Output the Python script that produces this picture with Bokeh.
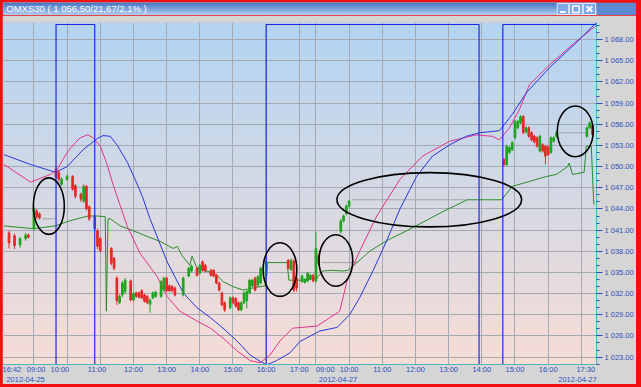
import numpy as np
from bokeh.plotting import figure
from bokeh.layouts import column
from bokeh.models import ColumnDataSource, FixedTicker, LinearAxis, Range1d
from bokeh.core.properties import value
from bokeh.embed import file_html
from bokeh.resources import INLINE

TITLE = "OMXS30 ( 1 056,50/21,67/2,1% )"

# x = trading minutes counted from 2012-04-26 09:00 (sessions 09:00-17:30 joined)
c_time = [-45, -35, -25, -15, -10,
          0, 5, 10, 40, 45, 50, 60, 70, 75, 85, 90, 95, 100, 110, 115, 120,
          140, 145, 150, 155, 160, 165, 175, 180, 185, 190, 195, 200, 205, 210, 215, 220,
          230, 235, 240, 245, 250, 255, 270, 280, 285, 295, 300, 305, 310, 320, 325, 330, 335, 340, 345,
          355, 360, 365, 370, 375, 380, 385, 390, 395, 400, 405, 410, 420,
          460, 465, 470, 475, 485, 490, 495, 500, 505,
          510, 515, 555, 560, 565, 570,
          850, 855, 860, 865, 870, 875, 880, 885, 890, 895, 900, 905, 910, 915, 920, 925, 930, 935, 940, 945,
          1000, 1005, 1010]
c_open = [1040.6, 1040.2, 1038.9, 1039.8, 1040.3,
          1041.2, 1043.7, 1043.3, 1049.6, 1049.2, 1047.5, 1048.2, 1048.6, 1047.3, 1046.1, 1045.1, 1047.2, 1044.3, 1043.0, 1040.9, 1039.8,
          1038.4, 1037.0, 1034.2, 1030.7, 1031.8, 1032.3, 1033.8, 1031.1, 1032.1, 1032.1, 1032.4, 1031.8, 1031.6, 1030.5, 1031.4, 1031.6,
          1031.6, 1032.5, 1034.2, 1033.1, 1033.0, 1032.8, 1031.8, 1034.5, 1035.2, 1035.6, 1034.9, 1036.5, 1036.0, 1035.3, 1035.3, 1034.6, 1033.5, 1032.1, 1030.7,
          1030.0, 1031.4, 1031.3, 1030.7, 1029.7, 1030.7, 1031.0, 1032.1, 1033.1, 1034.2, 1033.2, 1033.5, 1034.6,
          1036.7, 1035.4, 1036.6, 1034.2, 1033.7, 1033.6, 1033.8, 1034.1, 1034.6,
          1033.8, 1037.4, 1040.8, 1042.3, 1043.3, 1044.4,
          1051.0, 1050.3, 1052.0, 1052.4, 1054.1, 1055.5, 1056.2, 1057.1, 1054.9, 1055.5, 1054.8, 1054.3, 1054.1, 1052.2, 1053.1, 1052.9, 1052.8, 1052.0, 1053.6, 1054.3,
          1054.3, 1055.5, 1055.9]
c_high = [1040.9, 1040.5, 1040.0, 1040.6, 1040.5,
          1044.3, 1044.0, 1043.5, 1050.0, 1049.5, 1048.5, 1048.9, 1048.8, 1047.5, 1046.3, 1047.5, 1047.4, 1044.5, 1043.2, 1041.2, 1040.0,
          1038.6, 1037.2, 1034.5, 1031.9, 1033.8, 1034.2, 1034.0, 1032.2, 1032.3, 1032.3, 1032.6, 1032.0, 1031.8, 1031.3, 1032.3, 1032.4,
          1033.9, 1034.4, 1034.4, 1033.3, 1033.2, 1033.0, 1034.4, 1035.8, 1036.1, 1035.8, 1036.2, 1036.7, 1036.2, 1035.5, 1035.5, 1034.8, 1033.7, 1032.3, 1030.9,
          1031.6, 1031.6, 1031.5, 1030.9, 1030.9, 1032.3, 1032.5, 1034.1, 1034.1, 1034.4, 1034.6, 1035.8, 1037.0,
          1036.9, 1037.0, 1036.9, 1034.4, 1034.7, 1034.2, 1035.1, 1034.8, 1034.8,
          1040.8, 1037.7, 1042.6, 1043.2, 1044.6, 1045.3,
          1051.2, 1053.1, 1052.9, 1053.6, 1056.6, 1056.6, 1057.3, 1057.3, 1055.7, 1055.7, 1055.0, 1054.5, 1054.3, 1054.5, 1053.3, 1053.1, 1053.0, 1054.3, 1054.3, 1055.0,
          1055.7, 1056.4, 1056.3]
c_low = [1038.4, 1038.3, 1038.5, 1039.5, 1039.8,
         1040.9, 1042.6, 1042.5, 1048.2, 1047.9, 1047.3, 1048.0, 1046.6, 1045.5, 1045.0, 1044.9, 1043.8, 1042.3, 1040.8, 1038.3, 1037.8,
         1036.0, 1035.3, 1030.4, 1030.5, 1031.5, 1032.0, 1030.9, 1030.9, 1031.4, 1031.3, 1031.2, 1030.7, 1030.5, 1029.3, 1031.2, 1031.4,
         1031.4, 1032.3, 1032.2, 1032.2, 1032.2, 1031.6, 1031.6, 1034.3, 1035.0, 1034.4, 1034.7, 1035.1, 1035.0, 1034.4, 1034.3, 1033.3, 1032.3, 1030.2, 1029.4,
         1029.8, 1030.5, 1030.0, 1029.5, 1029.5, 1030.5, 1029.9, 1031.9, 1032.9, 1032.3, 1033.0, 1033.3, 1034.3,
         1035.4, 1035.2, 1032.2, 1032.3, 1033.5, 1033.4, 1033.6, 1033.9, 1033.6,
         1033.5, 1036.0, 1040.5, 1042.1, 1043.1, 1044.2,
         1050.0, 1050.1, 1051.8, 1052.2, 1053.9, 1055.3, 1056.0, 1054.6, 1054.7, 1054.1, 1053.6, 1053.3, 1052.7, 1052.0, 1052.0, 1050.3, 1051.5, 1051.8, 1053.4, 1054.1,
         1054.1, 1055.3, 1054.3]
c_close = [1039.2, 1038.8, 1039.8, 1040.3, 1040.0,
           1044.0, 1042.9, 1042.7, 1048.5, 1048.2, 1048.2, 1048.6, 1046.8, 1045.8, 1045.4, 1047.2, 1044.0, 1042.6, 1041.2, 1038.7, 1038.1,
           1036.3, 1035.6, 1031.0, 1031.6, 1033.5, 1033.9, 1031.1, 1032.0, 1031.6, 1031.5, 1031.4, 1030.9, 1030.7, 1031.1, 1032.1, 1032.2,
           1033.7, 1034.2, 1032.4, 1032.4, 1032.4, 1031.8, 1034.2, 1035.6, 1035.9, 1034.6, 1036.0, 1035.3, 1035.2, 1034.6, 1034.5, 1033.5, 1032.5, 1030.4, 1029.7,
           1031.4, 1030.7, 1030.2, 1029.7, 1030.7, 1032.1, 1032.3, 1033.9, 1033.9, 1032.5, 1034.4, 1035.6, 1036.6,
           1035.6, 1036.7, 1032.5, 1032.8, 1034.5, 1034.0, 1034.9, 1034.6, 1033.8,
           1038.4, 1036.3, 1042.3, 1043.0, 1044.4, 1045.1,
           1050.3, 1052.9, 1052.7, 1053.4, 1056.4, 1056.4, 1057.1, 1054.8, 1055.5, 1054.3, 1053.8, 1053.5, 1052.9, 1054.3, 1052.2, 1051.5, 1051.7, 1054.1, 1054.1, 1054.8,
           1055.5, 1056.2, 1054.6]

# flat price lines where no trades were printed
gap_start = [15, 520, 575, 950]
gap_end = [38, 585, 784, 999]
gap_price = [1042.6, 1036.4, 1045.3, 1054.8]

# green average
ma_time = [-54, -1, 39, 60, 78, 98, 115, 129, 131, 134, 138, 156, 180, 205, 228, 252, 259, 268, 282, 286,
           295, 313, 331, 342, 360, 378, 396, 418, 423, 458, 461, 486, 512, 522, 540, 559, 568, 577, 607, 638,
           674, 698, 739, 784, 846, 865, 896, 927, 945, 965, 968, 974, 995, 999, 1008, 1012, 1013]
ma_price = [1041.6, 1041.2, 1041.6, 1042.2, 1042.6, 1043.0, 1043.0, 1042.9, 1029.5, 1042.6, 1042.6, 1041.6, 1040.9, 1040.1, 1039.4, 1038.4, 1038.7, 1037.4, 1036.0, 1037.3,
            1035.6, 1035.2, 1034.6, 1033.7, 1033.0, 1032.5, 1032.8, 1033.1, 1036.4, 1036.4, 1033.9, 1033.9, 1034.2, 1035.2, 1035.3, 1035.2, 1035.3, 1035.9, 1038.0, 1039.5,
            1040.9, 1041.9, 1043.6, 1045.3, 1045.3, 1047.2, 1047.9, 1048.6, 1048.9, 1050.0, 1050.5, 1048.9, 1049.2, 1052.9, 1052.9, 1045.4, 1044.6]

# magenta average
mag_time = [-54, -6, 30, 42, 60, 75, 84, 97, 107, 120, 131, 143, 169, 192, 223, 241, 264, 295, 319, 342,
            367, 391, 409, 427, 445, 468, 512, 553, 566, 577, 589, 620, 662, 703, 752, 800, 829, 842, 860, 878,
            896, 932, 977, 1017]
mag_price = [1050.3, 1047.8, 1048.9, 1049.6, 1052.0, 1053.4, 1054.1, 1054.5, 1054.1, 1052.9, 1050.6, 1047.5, 1041.5, 1037.7, 1034.4, 1031.6, 1029.5, 1028.1, 1027.1, 1025.7,
             1023.9, 1022.5, 1022.2, 1023.3, 1025.3, 1027.1, 1027.4, 1029.5, 1033.7, 1035.9, 1038.0, 1043.0, 1048.2, 1051.5, 1053.6, 1054.5, 1054.3, 1053.8, 1055.5, 1058.1,
             1061.6, 1064.4, 1067.5, 1070.0]

# blue average
blu_time = [-54, -6, 39, 60, 89, 102, 115, 125, 138, 151, 169, 183, 196, 210, 241, 270, 295, 319, 342, 367,
            391, 409, 421, 439, 463, 481, 517, 548, 571, 589, 613, 638, 662, 692, 721, 752, 782, 806, 842, 865,
            891, 932, 977, 1017]
blu_price = [1051.7, 1050.3, 1049.2, 1050.0, 1052.4, 1053.2, 1054.0, 1054.4, 1054.3, 1053.0, 1050.6, 1048.2, 1045.8, 1042.6, 1036.5, 1032.1, 1030.0, 1028.6, 1027.1, 1025.3,
             1023.3, 1022.4, 1021.9, 1022.5, 1023.6, 1025.2, 1026.7, 1027.2, 1029.0, 1031.4, 1035.2, 1039.5, 1044.0, 1048.6, 1051.5, 1053.1, 1054.3, 1054.8, 1055.1, 1057.4,
             1060.5, 1064.0, 1067.3, 1070.4]

# on/off signal (step)
sig_time = [-55, 40, 110, 420, 805, 848, 1017]
sig_on = [0, 1, 0, 1, 0, 1, 1]

# hand-drawn ellipses
ell_time = [27, 445, 546, 715, 979]
ell_price = [1044.4, 1035.4, 1036.7, 1045.3, 1055.0]
ell_w = [56, 61, 61, 334, 65]
ell_h = [8.0, 7.6, 7.3, 7.7, 7.2]

# axes
time_tick_pos = [-40, 4, 47, 114, 180, 240, 300, 360, 420, 480, 527, 570, 630, 690, 750, 810, 870, 930, 998]
time_tick_lab = ["16:42", "09:00", "10:00", "11:00", "12:00", "13:00", "14:00", "15:00", "16:00", "17:00",
                 "09:00", "10:00", "11:00", "12:00", "13:00", "14:00", "15:00", "16:00", "17:30"]
date_tick_pos = [-15, 550, 983]
date_tick_lab = ["2012-04-25", "2012-04-27", "2012-04-27"]
hour_grid = [0, 60, 120, 180, 240, 300, 360, 420, 480, 510, 570, 630, 690, 750, 810, 870, 930, 990]
ytick_vals = [1023, 1026, 1029, 1032, 1035, 1038, 1041, 1044, 1047, 1050, 1053, 1056, 1059, 1062, 1065, 1068]
ytick_labels = ["1 023.00", "1 026.00", "1 029.00", "1 032.00", "1 035.00", "1 038.00", "1 041.00", "1 044.00",
                "1 047.00", "1 050.00", "1 053.00", "1 056.00", "1 059.00", "1 062.00", "1 065.00", "1 068.00"]

Y0, Y1 = 1021.95, 1070.43
X0, X1 = -55, 1017.4
TEAL = "#4db6bf"
LABEL_BLUE = "#2f4fbf"
FONT = "Liberation Sans"
RED = "#f01010"


def hexcol(rgb):
    return "#%02x%02x%02x" % tuple(int(round(v)) for v in rgb)


# ---------------- window title bar ----------------
TW, TH = 634, 13
tfig = figure(width=TW, height=TH, output_backend="svg", toolbar_location=None,
              x_range=Range1d(0, TW), y_range=Range1d(0, TH),
              x_axis_type=None, y_axis_type=None, min_border=0,
              outline_line_color=None, border_fill_color="#5a8ad0")
tfig.grid.visible = False
tb_top = np.array([0x3a, 0x6c, 0xbf])
tb_bot = np.array([0xa8, 0xc6, 0xec])
t_cols = [hexcol(tb_top + (tb_bot - tb_top) * (i / (TH - 1))) for i in range(TH)]
tfig.quad(left=0, right=TW, top=[TH - i for i in range(TH)], bottom=[TH - i - 1 for i in range(TH)],
          fill_color=t_cols, line_color=t_cols, line_width=0.5)
tfig.text(x=[3], y=[TH / 2 + 0.5], text=[TITLE], text_color="white", text_font=value(FONT),
          text_font_size="9.5px", text_baseline="middle", text_align="left")
tfig.quad(left=[592, 605, 620], right=[604, 619, 633], bottom=1, top=12,
          fill_color="#7ea8e4", line_color="#dde8fb", line_width=1)
tfig.segment(x0=[595], y0=[3.5], x1=[601], y1=[3.5], line_color="white", line_width=2)
tfig.quad(left=[608.5], right=[615.5], bottom=[3], top=[9.5], fill_color=None,
          line_color="white", line_width=1.5)
tfig.scatter(x=[626.5], y=[6.5], marker="x", size=8, line_color="white", line_width=2)

# ---------------- main chart ----------------
p = figure(width=634, height=369, output_backend="svg", toolbar_location=None,
           x_range=Range1d(X0, X1), y_range=Range1d(Y0, Y1),
           y_axis_location="right",
           min_border_left=1, min_border_right=39, min_border_top=7, min_border_bottom=17,
           border_fill_color="#d5d5d5", outline_line_color=None)

# background gradient (light blue top -> pale pink bottom)
nb = 60
edges = np.linspace(Y0 - 0.5, Y1 + 0.5, nb + 1)
top_rgb = np.array([0xb2, 0xd4, 0xf3])
bot_rgb = np.array([0xf7, 0xdd, 0xd5])
cols = [hexcol(bot_rgb + (top_rgb - bot_rgb) * ((i + 0.5) / nb)) for i in range(nb)]
p.quad(left=X0 - 10, right=X1 + 10, bottom=edges[:-1], top=edges[1:],
       fill_color=cols, line_color=cols, level="image")

# grid
p.xgrid.ticker = FixedTicker(ticks=hour_grid)
p.ygrid.ticker = FixedTicker(ticks=ytick_vals)
for g in (p.xgrid, p.ygrid):
    g.grid_line_color = "#a4a9b2"
    g.grid_line_width = 1

# right axis
yax = p.yaxis[0]
yax.ticker = FixedTicker(ticks=ytick_vals, minor_ticks=list(range(1022, 1071)))
yax.major_label_overrides = dict(zip(ytick_vals, ytick_labels))
yax.major_label_text_font = FONT
yax.major_label_text_font_size = "7.5px"
yax.major_label_text_color = LABEL_BLUE
yax.axis_line_color = TEAL
yax.major_tick_line_color = LABEL_BLUE
yax.minor_tick_line_color = LABEL_BLUE
yax.major_tick_in = 0
yax.major_tick_out = 6
yax.minor_tick_in = 0
yax.minor_tick_out = 3
yax.major_label_standoff = 2

# bottom time axis
xax = p.xaxis[0]
xax.ticker = FixedTicker(ticks=time_tick_pos)
xax.major_label_overrides = dict(zip(time_tick_pos, time_tick_lab))
xax.major_label_text_font = FONT
xax.major_label_text_font_size = "7.5px"
xax.major_label_text_color = LABEL_BLUE
xax.axis_line_color = TEAL
xax.major_tick_line_color = None
xax.minor_tick_line_color = None
xax.major_tick_in = 0
xax.major_tick_out = 0
xax.minor_tick_out = 0
xax.major_label_standoff = 0

date_ax = LinearAxis(ticker=FixedTicker(ticks=date_tick_pos),
                     major_label_overrides=dict(zip(date_tick_pos, date_tick_lab)),
                     axis_line_color=None, major_tick_line_color=None, minor_tick_line_color=None,
                     major_tick_in=0, major_tick_out=0, minor_tick_out=0, major_label_standoff=0,
                     major_label_text_font=FONT, major_label_text_font_size="7.5px",
                     major_label_text_color=LABEL_BLUE)
p.add_layout(date_ax, "below")

# gap lines
p.segment(x0=gap_start, y0=gap_price, x1=gap_end, y1=gap_price, line_color="#a5a5a5", line_width=1)

# averages
p.line(ma_time, ma_price, line_color="#2b8a2b", line_width=1)
p.line(mag_time, mag_price, line_color="#e3338c", line_width=1)
p.line(blu_time, blu_price, line_color="#2a36d8", line_width=1)

# candles
colors = ["#1fa31f" if c >= o else "#e42a2a" for o, c in zip(c_open, c_close)]
src = ColumnDataSource(dict(t=c_time, o=c_open, h=c_high, l=c_low, c=c_close, col=colors,
                            top=[max(o, c) for o, c in zip(c_open, c_close)],
                            bot=[min(o, c) for o, c in zip(c_open, c_close)]))
p.segment(x0="t", y0="l", x1="t", y1="h", line_color="col", line_width=1, source=src)
p.vbar(x="t", width=3.0, top="top", bottom="bot", fill_color="col", line_color="col", source=src)

# signal step
HI, LO = 1070.15, 1015.0
sig_level = [HI if s else LO for s in sig_on]
p.step(sig_time, sig_level, mode="after", line_color="#1c2be0", line_width=1.2)

# ellipses
p.ellipse(x=ell_time, y=ell_price, width=ell_w, height=ell_h,
          fill_color=None, line_color="black", line_width=1.6)

layout = column(tfig, p, width=641, height=387, spacing=0,
                styles={"background-color": RED, "padding": "2px 5px 3px 2px",
                        "box-sizing": "border-box"})

open("out.html", "w").write(file_html(layout, INLINE))
